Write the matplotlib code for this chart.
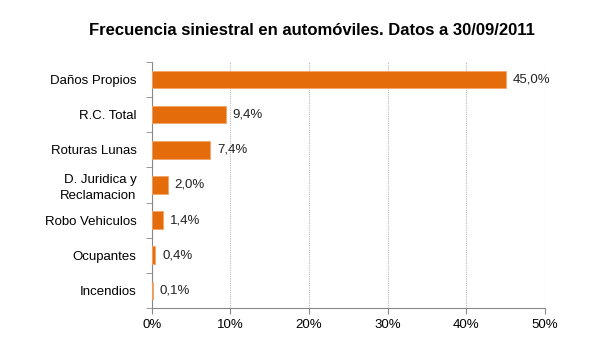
import matplotlib
matplotlib.use("Agg")
import matplotlib.pyplot as plt
from matplotlib.ticker import FixedLocator, NullFormatter

plt.rcParams['font.family'] = ['Liberation Sans', 'DejaVu Sans']

# data
categorias = ["Daños Propios", "R.C. Total", "Roturas Lunas", "D. Juridica y\nReclamacion",
              "Robo Vehiculos", "Ocupantes", "Incendios"]
frecuencia = [45.0, 9.4, 7.4, 2.0, 1.4, 0.4, 0.1]
xticks = [0, 10, 20, 30, 40, 50]

fig = plt.figure(figsize=(6, 3.52), dpi=100)
ax = fig.add_axes([0.253, 0.125, 0.655, 0.699])

n = len(categorias)
ypos = list(range(n))[::-1]
ax.barh(ypos, frecuencia, height=0.5, color="#E46C0A", edgecolor="#F2A56A", linewidth=0.6, zorder=3)

for y, v in zip(ypos, frecuencia):
    ax.text(v + 0.9, y, f"{v:.1f}%".replace(".", ","), va="center", ha="left", fontsize=9.5, color="#222222")

ax.set_xlim(0, 50)
ax.set_ylim(-0.5, n - 0.5)
ax.set_xticks(xticks)
ax.set_xticklabels([f"{t}%" for t in xticks], fontsize=9.5)
ax.set_yticks(ypos)
ax.set_yticklabels(categorias, fontsize=9.5, linespacing=1.35)
for lbl in ax.get_yticklabels():
    lbl.set_multialignment("right")
ax.tick_params(axis="y", which="major", length=0, pad=11)
ax.yaxis.set_minor_locator(FixedLocator([i - 0.5 for i in range(n + 1)]))
ax.yaxis.set_minor_formatter(NullFormatter())
ax.tick_params(axis="y", which="minor", length=4, color="#888888")
ax.tick_params(axis="x", length=4, color="#888888", pad=4)

ax.grid(axis="x", linestyle=(0, (1, 1)), color="#BBBBBB", linewidth=0.8, zorder=0)
for s in ["top", "right"]:
    ax.spines[s].set_visible(False)
ax.spines["left"].set_color("#888888")
ax.spines["bottom"].set_color("#888888")

fig.suptitle("Frecuencia siniestral en automóviles. Datos a 30/09/2011", x=0.52, y=0.935,
             fontsize=12, fontweight="bold")

fig.savefig("out.png", dpi=100)
